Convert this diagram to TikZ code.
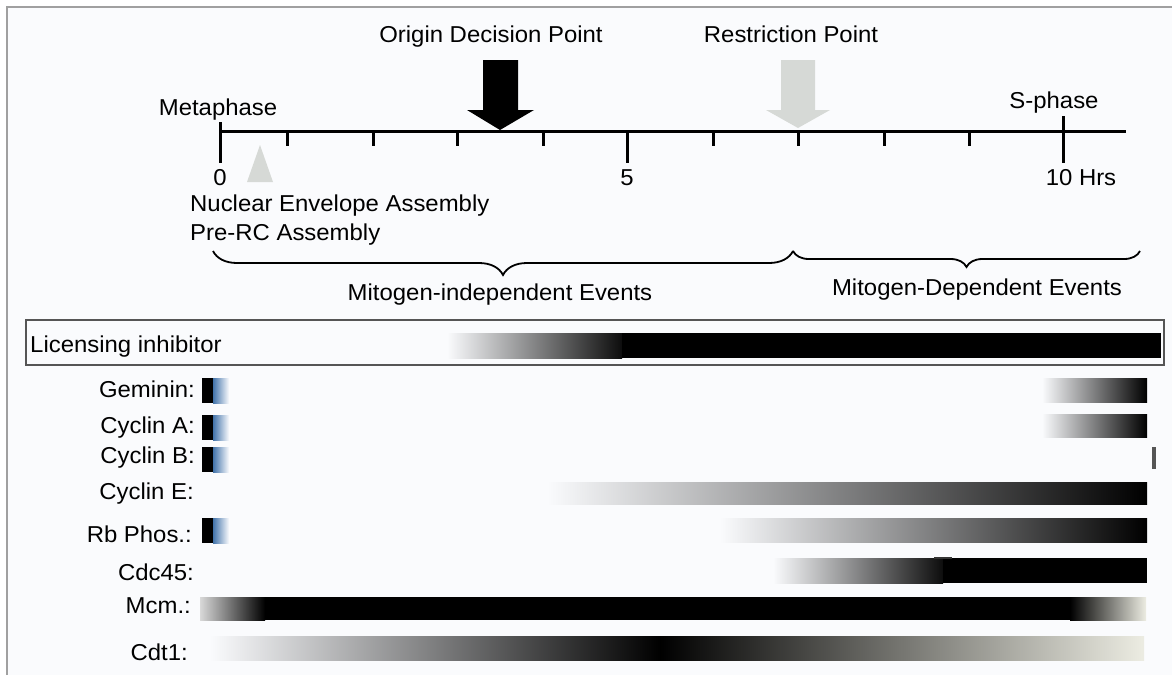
\documentclass[tikz,border=0pt]{standalone}
\usepackage{fontspec}
\setmainfont{Liberation Sans}[FakeStretch=1.04]
\usetikzlibrary{decorations.pathreplacing}
\definecolor{bgc}{RGB}{250,251,253}
\definecolor{framec}{RGB}{160,160,160}
\definecolor{palec}{RGB}{214,217,214}
\definecolor{bluec}{RGB}{66,115,170}
\definecolor{beigec}{RGB}{236,236,226}
\definecolor{boxc}{RGB}{85,85,85}

\begin{document}
\begin{tikzpicture}[x=1pt, y=-1pt,
  lbl/.style={inner sep=0pt, font=\fontsize{23}{27}\selectfont},
  rowlbl/.style={lbl, anchor=base east},
  axisline/.style={line width=3pt},
  evbrace/.style={decorate, decoration={brace, mirror, amplitude=#1}, line width=1.8pt}]
  \useasboundingbox (0,0) rectangle (1172,675);

  % page and frame
  \fill[white] (0,0) rectangle (1172,675);
  \fill[bgc] (7,7) rectangle (1172,675);
  \draw[framec, line width=1.3pt] (7,675) -- (7,7) -- (1172,7);

  % time axis
  \draw[axisline] (220,131) -- (1126,131);
  \draw[axisline] (220,122) -- (220,163);
  \draw[axisline] (627,131) -- (627,163);
  \draw[axisline] (1063,116) -- (1063,163);
  \foreach \t in {287,373,457,543,713,798,884,969}
    \draw[axisline] (\t,131) -- (\t,146);

  % decision arrows
  \fill[black] (483,60) -- (518,60) -- (518,110) -- (534,110) -- (500,130)
    -- (467,110) -- (483,110) -- cycle;
  \fill[palec] (781,60) -- (815,60) -- (815,110) -- (830,110) -- (798,128)
    -- (766,110) -- (781,110) -- cycle;
  \fill[palec] (260,145) -- (273,182) -- (247,182) -- cycle;

  % axis labels
  \node[lbl, anchor=base] (odp) at (491,42) {Origin Decision Point};
  \node[lbl, anchor=base] (rp) at (791,42) {Restriction Point};
  \node[lbl, anchor=base] (meta) at (218,115) {Metaphase};
  \node[lbl, anchor=base] (sph) at (1054,108) {S-phase};
  \node[lbl, anchor=base] (h0) at (220,185) {0};
  \node[lbl, anchor=base] (h5) at (627,185) {5};
  \node[lbl, anchor=base] (h10) at (1081,185) {10 Hrs};
  \node[lbl, anchor=base west] (nea) at (190,211) {Nuclear Envelope Assembly};
  \node[lbl, anchor=base west] (prc) at (190,240) {Pre-RC Assembly};

  % event braces
  \coordinate (b1) at (213,251);
  \coordinate (b2) at (793,251);
  \coordinate (b3) at (1140,251);
  \draw[evbrace=24pt] (b1) -- (b2);
  \draw[evbrace=16pt] (b2) -- (b3);
  \node[lbl, anchor=base] (mie) at (500,300) {Mitogen-independent Events};
  \node[lbl, anchor=base] (mde) at (977,295) {Mitogen-Dependent Events};

  % licensing inhibitor box
  \shade[left color=bgc, right color=black!95] (447,333) rectangle (622,358);
  \fill[black] (622,333) rectangle (1161,358);
  \draw[boxc, line width=2pt] (26,320) rectangle (1164,365);
  \node[lbl, anchor=base west] (lic) at (30,352) {Licensing inhibitor};

  % row labels
  \foreach \t/\x/\y [count=\i] in {Geminin:/195/397, Cyclin A:/195/433,
      Cyclin B:/195/463, Cyclin E:/194/499, Rb Phos.:/192/542,
      Cdc45:/194/580, Mcm.:/191/613, Cdt1:/188/660}
    \node[rowlbl] (row\i) at (\x,\y) {\t};

  % early bars
  \foreach \y in {378,415,447,518}{
    \fill[black] (202,\y) rectangle (213,\y+25);
    \shade[left color=bluec, right color=bgc] (213,\y) rectangle (229,\y+25);
  }

  % late bars
  \shade[left color=bgc, right color=black] (1042,378) rectangle (1147,402);
  \shade[left color=bgc, right color=black] (1042,414) rectangle (1147,437);
  \fill[boxc] (1152,447) rectangle (1156,469);
  \shade[left color=bgc, right color=black] (547,482) rectangle (1147,504);
  \shade[left color=bgc, right color=black] (720,518) rectangle (1147,542);
  \shade[left color=bgc, right color=black!95] (773,558) rectangle (943,583);
  \fill[black] (943,558) rectangle (1147,583);
  \fill[black!80] (934,557) rectangle (952,558.5);

  % Mcm and Cdt1
  \shade[left color=black!15, right color=black] (200,597) rectangle (265,620);
  \fill[black] (265,597) rectangle (1070,620);
  \shade[left color=black, right color=beigec] (1070,597) rectangle (1146,620);
  \shade[left color=bgc, right color=black] (210,636) rectangle (660,660);
  \shade[left color=black, right color=beigec] (660,636) rectangle (1144,660);
\end{tikzpicture}
\end{document}
